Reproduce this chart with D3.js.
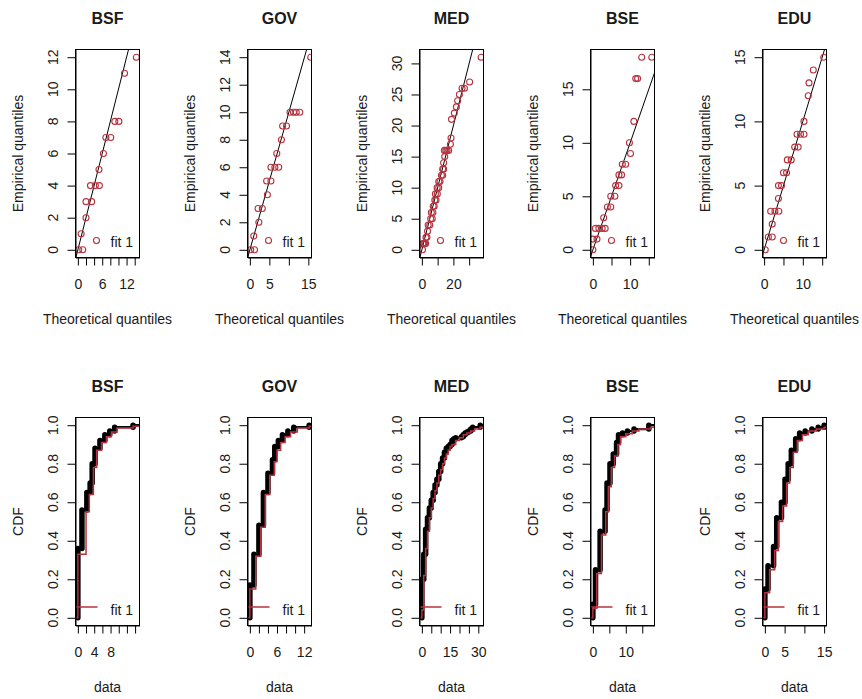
<html lang="en">
  <head>
    <title>QQ and CDF comparison</title>
    <script src="https://d3js.org/d3.v7.min.js"></script>
    <style>
      body { margin: 0; background: white; }
      text { font-family: "Liberation Sans", Arial, sans-serif; fill: #1a1a1a; }
    </style>
  </head>

  <body>
  <script>

  var w = 862;
  var h = 699;

  var names = ["BSF", "GOV", "MED", "BSE", "EDU"];

  // QQ points: [theoretical quantile, empirical quantile]
  var qqBSF = [[0.2,0],[1.2,0],[0.8,1],[2.0,2],[2.0,3],[3.4,3],[3.1,4],[4.3,4],[5.3,4],[5.2,5],
               [6.3,6],[6.9,7],[8.1,7],[9.1,8],[10.1,8],[11.5,11],[14.4,12]];
  var qqGOV = [[0.2,0],[1.2,0],[1.0,1],[2.3,2],[2.1,3],[3.2,3],[4.5,4],[4.3,5],[5.4,5],[5.4,6],
               [6.4,6],[7.4,6],[6.9,7],[8.1,8],[8.4,9],[9.4,9],[10.3,10],[11.2,10],[11.9,10],[12.8,10],[15.6,14]];
  var qqMED = [[0.4,0],[0.6,1],[1.2,1],[1.8,1],[2.4,1],[2.6,2],[3.2,2],[3.6,3],[4.0,4],[5.0,4],
               [5.6,5],[6.6,5],[6.0,6],[7.0,6],[7.2,7],[7.8,7],[8.2,8],[9.0,8],[8.6,9],[9.8,9],
               [9.7,10],[10.7,10],[10.7,11],[11.5,11],[12.4,12],[13.2,12],[13.2,13],[13.8,13],[13.8,14],[14.5,15],
               [14.3,16],[15.2,16],[16.0,16],[17.0,16],[18.1,17],[18.5,18],[18.8,21],[20.6,22],[21.9,23],[22.7,24],
               [23.8,25],[25.5,26],[27.0,26],[30.3,27],[37.6,31]];
  var qqBSE = [[0,0],[0,1],[1.1,1],[0.7,2],[1.6,2],[2.5,2],[3.3,2],[2.9,3],[3.9,4],[4.8,4],
               [4.8,5],[5.9,5],[6.1,6],[7.0,6],[7.0,7],[7.7,7],[7.9,8],[8.8,8],[10.1,9],[9.8,10],
               [11.0,12],[11.5,16],[12.0,16],[13.1,18],[15.8,18]];
  var qqEDU = [[0.3,0],[1.1,1],[2.1,1],[2.1,2],[1.7,3],[2.8,3],[3.8,3],[3.7,4],[3.7,5],[4.5,5],
               [5.0,6],[5.8,6],[6.0,7],[7.0,7],[7.9,8],[8.8,8],[8.5,9],[9.4,9],[10.3,9],[10.3,10],
               [11.4,12],[11.6,13],[12.7,14],[15.4,15]];
  var qqData = [qqBSF, qqGOV, qqMED, qqBSE, qqEDU];

  var qqXlim = [[0,14.6],[0,15.2],[0,37.6],[0,15.9],[0.2,15.5]];
  var qqYlim = [[0,12],[0,14],[0,31],[0,18],[0,15]];
  var qqXTicks = [[0,2,4,6,8,10,12,14],[0,5,10,15],[0,10,20,30],[0,5,10,15],[0,5,10,15]];
  var qqXLabels = [[0,6,12],[0,5,15],[0,20],[0,10],[0,10]];
  var qqYTicks = [[0,2,4,6,8,10,12],[0,2,4,6,8,10,12,14],[0,5,10,15,20,25,30],[0,5,10,15],[0,5,10,15]];

  // empirical CDF steps: [x, F]
  var ecdfBSF = [[0,0.36],[1,0.56],[2.2,0.65],[3.0,0.70],[3.5,0.80],[4.2,0.88],[5.4,0.92],[6.6,0.95],[7.8,0.97],[9.0,0.99],[13.5,1.0]];
  var ecdfGOV = [[0,0.17],[0.9,0.33],[2.0,0.48],[3.0,0.65],[4.0,0.75],[5.0,0.82],[5.5,0.89],[6.3,0.92],[7.2,0.95],[8.4,0.97],[9.7,0.99],[13.1,1.0]];
  var ecdfMED = [[0,0.20],[1,0.33],[2,0.46],[3,0.52],[4,0.57],[5,0.61],[6,0.65],[7,0.69],[8,0.72],[9,0.76],
                 [10,0.80],[11,0.83],[12,0.86],[13,0.88],[14,0.89],[15,0.90],[16,0.92],[17,0.93],[18,0.935],[21,0.94],
                 [22,0.95],[23,0.96],[24,0.965],[25,0.97],[26,0.98],[27,0.99],[31,1.0]];
  var ecdfBSE = [[0,0.07],[0.8,0.25],[2.2,0.45],[3.7,0.56],[4.3,0.70],[5.2,0.80],[6.2,0.85],[7.2,0.91],[7.8,0.95],[9,0.96],[10.5,0.97],[12.5,0.98],[17,1.0]];
  var ecdfEDU = [[0,0.15],[0.8,0.27],[2.2,0.37],[3.0,0.52],[4.2,0.60],[5.1,0.72],[5.9,0.80],[6.7,0.87],[7.8,0.93],[8.8,0.96],[10.2,0.97],[11.9,0.98],[13.5,0.99],[15,1.0]];
  var ecdfData = [ecdfBSF, ecdfGOV, ecdfMED, ecdfBSE, ecdfEDU];

  // fitted CDF steps: [x, F]
  var fitBSF = [[0,0.33],[2.0,0.55],[2.8,0.64],[3.8,0.78],[4.6,0.87],[5.8,0.91],[7.0,0.94],[8.2,0.965],[9.6,0.985],[13.5,0.995]];
  var fitGOV = [[0,0.15],[1.3,0.32],[2.4,0.47],[3.4,0.64],[4.4,0.74],[5.4,0.81],[6.0,0.87],[6.8,0.91],[7.8,0.94],[9.0,0.965],[10.5,0.985],[13.1,0.995]];
  var fitMED = [[0,0.04],[1,0.22],[2,0.36],[3,0.45],[4,0.52],[5,0.57],[6,0.62],[7,0.66],[8,0.70],[9,0.74],
                [10,0.77],[11,0.80],[12,0.83],[13,0.85],[14,0.87],[15,0.89],[16,0.90],[18,0.92],[20,0.935],[22,0.95],
                [24,0.96],[26,0.97],[28,0.98],[31,0.99]];
  var fitBSE = [[0,0.05],[1.2,0.23],[2.6,0.43],[3.9,0.55],[4.7,0.68],[5.6,0.78],[6.6,0.84],[7.6,0.90],[8.4,0.94],[10,0.955],[12,0.97],[14,0.98],[17.5,0.99]];
  var fitEDU = [[0,0.13],[1.2,0.25],[2.5,0.35],[3.4,0.50],[4.5,0.58],[5.5,0.70],[6.3,0.78],[7.2,0.86],[8.2,0.92],[9.5,0.95],[11,0.97],[13,0.98],[15,0.99]];
  var fitData = [fitBSF, fitGOV, fitMED, fitBSE, fitEDU];

  var cdfXlim = [[0,14.5],[0,13.1],[0,31.5],[0,18],[0,15]];
  var cdfXTicks = [[0,2,4,6,8,10,12,14],[0,2,4,6,8,10,12],[0,5,10,15,20,25,30],[0,5,10,15],[0,5,10,15]];
  var cdfXLabels = [[0,4,8],[0,6,12],[0,15,30],[0,10],[0,5,15]];
  var cdfYTicks = [0,0.2,0.4,0.6,0.8,1.0];

  var fitColor = "#b8323e";
  var colX0 = 75, colStep = 171.8;
  var boxW = 64, boxH = 208;
  var rowTop = [49.5, 417.5];

  // R style 4% axis extension
  function ext(lim) {
    var r = lim[1] - lim[0];
    return [lim[0] - 0.04 * r, lim[1] + 0.04 * r];
  }

  var svg = d3.select("body")
    .append("svg")
      .attr("width", w)
      .attr("height", h);

  svg.append("rect")
    .attr("width", w)
    .attr("height", h)
    .attr("fill", "white");

  // draws box, axes, labels and title for one panel
  function frame(g, x, y, xTicks, xLabels, yTicks, yFmt, title, xTitle, yTitle) {
    var xa = g.append("g")
      .attr("transform", `translate(0,${boxH})`)
      .call(d3.axisBottom(x).tickValues(xTicks).tickSize(8).tickSizeOuter(0).tickPadding(14)
        .tickFormat(d => xLabels.indexOf(d) >= 0 ? d : ""));
    var ya = g.append("g")
      .call(d3.axisLeft(y).tickValues(yTicks).tickSize(8).tickSizeOuter(0).tickFormat(""));
    [xa, ya].forEach(function(a) {
      a.attr("font-family", null).attr("font-size", null);
      a.selectAll("line, path").attr("stroke", "#000");
      a.selectAll("text").attr("font-size", "14px").attr("fill", "#1a1a1a");
    });

    g.selectAll("text.ylab")
      .data(yTicks)
      .enter().append("text")
        .attr("class", "ylab")
        .attr("x", -22)
        .attr("y", d => y(d))
        .attr("dy", "0.35em")
        .attr("transform", d => `rotate(-90,-22,${y(d)})`)
        .attr("text-anchor", "middle")
        .attr("font-size", "14px")
        .text(yFmt);

    g.append("rect")
      .attr("width", boxW)
      .attr("height", boxH)
      .attr("fill", "none")
      .attr("stroke", "#000");

    g.append("text")
      .attr("x", boxW / 2)
      .attr("y", -26)
      .attr("text-anchor", "middle")
      .attr("font-size", "16px")
      .attr("font-weight", "bold")
      .text(title);

    g.append("text")
      .attr("x", boxW / 2)
      .attr("y", boxH + 66)
      .attr("text-anchor", "middle")
      .attr("font-size", "14px")
      .text(xTitle);

    g.append("text")
      .attr("transform", `translate(-57,${boxH / 2}) rotate(-90)`)
      .attr("dy", "0.35em")
      .attr("text-anchor", "middle")
      .attr("font-size", "14px")
      .text(yTitle);
  }

  // top row: QQ plots
  names.forEach(function(name, i) {
    var left = Math.round(colX0 + i * colStep) + 0.5;
    var g = svg.append("g").attr("transform", `translate(${left},${rowTop[0]})`);
    var x = d3.scaleLinear().domain(ext(qqXlim[i])).range([0, boxW]);
    var y = d3.scaleLinear().domain(ext(qqYlim[i])).range([boxH, 0]);

    svg.append("clipPath").attr("id", "qq" + i)
      .append("rect").attr("width", boxW).attr("height", boxH);

    var plot = g.append("g").attr("clip-path", `url(#qq${i})`);
    var lo = Math.min(x.domain()[0], y.domain()[0]);
    var hi = Math.max(x.domain()[1], y.domain()[1]);
    plot.append("line")
      .attr("x1", x(lo)).attr("y1", y(lo))
      .attr("x2", x(hi)).attr("y2", y(hi))
      .attr("stroke", "#000");

    plot.selectAll("circle")
      .data(qqData[i])
      .enter().append("circle")
        .attr("cx", d => x(d[0]))
        .attr("cy", d => y(d[1]))
        .attr("r", 3)
        .attr("fill", "none")
        .attr("stroke", fitColor)
        .attr("stroke-width", 1.1);

    frame(g, x, y, qqXTicks[i], qqXLabels[i], qqYTicks[i], d => d, name,
      "Theoretical quantiles", "Empirical quantiles");

    // legend
    g.append("circle")
      .attr("cx", 21).attr("cy", boxH - 17)
      .attr("r", 3).attr("fill", "none").attr("stroke", fitColor).attr("stroke-width", 1.1);
    g.append("text")
      .attr("x", 35).attr("y", boxH - 11)
      .attr("font-size", "14px")
      .text("fit 1");
  });

  // bottom row: CDF plots
  names.forEach(function(name, i) {
    var left = Math.round(colX0 + i * colStep) + 0.5;
    var g = svg.append("g").attr("transform", `translate(${left},${rowTop[1]})`);
    var x = d3.scaleLinear().domain(ext(cdfXlim[i])).range([0, boxW]);
    var y = d3.scaleLinear().domain(ext([0, 1])).range([boxH, 0]);

    svg.append("clipPath").attr("id", "cdf" + i)
      .append("rect").attr("width", boxW).attr("height", boxH);

    var plot = g.append("g").attr("clip-path", `url(#cdf${i})`);
    var step = d3.line().x(d => x(d[0])).y(d => y(d[1])).curve(d3.curveStepAfter);
    var dom = x.domain();

    var emp = ecdfData[i];
    var empPts = [[dom[0], 0]].concat(emp, [[dom[1], emp[emp.length - 1][1]]]);
    plot.append("path")
      .attr("d", step(empPts))
      .attr("fill", "none")
      .attr("stroke", "#000")
      .attr("stroke-width", 2.2);

    // stacked points of the empirical cdf look like thick bars
    plot.selectAll("line.jump")
      .data(emp)
      .enter().append("line")
        .attr("class", "jump")
        .attr("x1", d => x(d[0])).attr("x2", d => x(d[0]))
        .attr("y1", (d, j) => y(j == 0 ? 0 : emp[j - 1][1]))
        .attr("y2", d => y(d[1]))
        .attr("stroke", "#000")
        .attr("stroke-width", 5.5)
        .attr("stroke-linecap", "round");

    var fit = fitData[i];
    var fitPts = [[dom[0], 0]].concat(fit, [[dom[1], fit[fit.length - 1][1]]]);
    plot.append("path")
      .attr("d", step(fitPts))
      .attr("fill", "none")
      .attr("stroke", fitColor)
      .attr("stroke-width", 1.5);

    frame(g, x, y, cdfXTicks[i], cdfXLabels[i], cdfYTicks, d3.format(".1f"), name, "data", "CDF");

    // legend
    g.append("line")
      .attr("x1", 1).attr("x2", 22)
      .attr("y1", boxH - 18.5).attr("y2", boxH - 18.5)
      .attr("stroke", fitColor)
      .attr("stroke-width", 1.5);
    g.append("text")
      .attr("x", 35).attr("y", boxH - 11)
      .attr("font-size", "14px")
      .text("fit 1");
  });

  </script>
  </body>
</html>
